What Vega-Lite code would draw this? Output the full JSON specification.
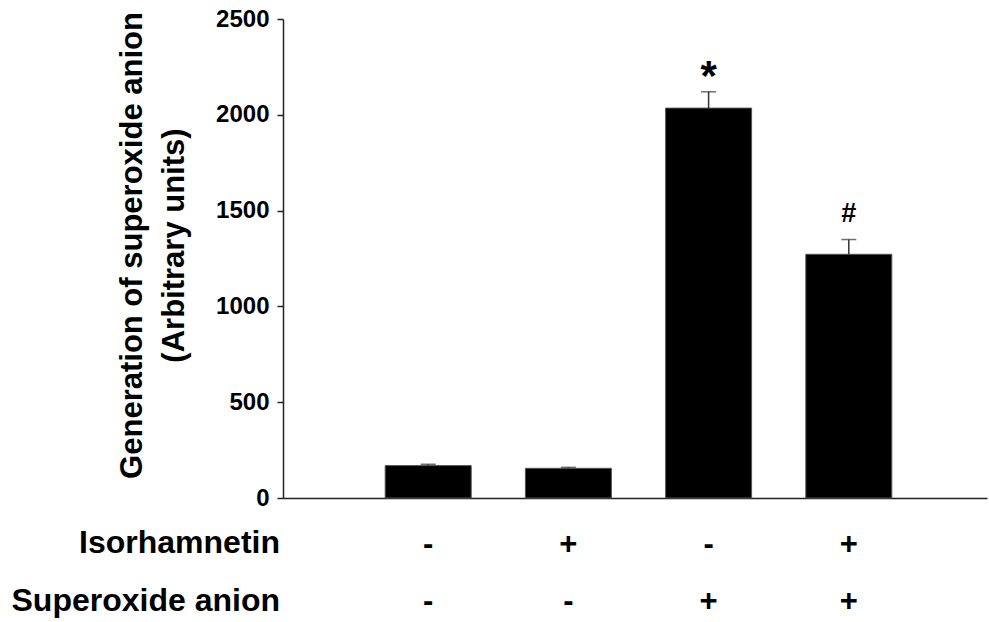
{
  "$schema": "https://vega.github.io/schema/vega-lite/v6.json",
  "autosize": {"type": "none"},
  "width": 704,
  "height": 479,
  "padding": {"left": 283, "top": 19, "right": 2, "bottom": 124},
  "background": "white",
  "config": {
    "view": {"stroke": null},
    "font": "Liberation Sans",
    "text": {"font": "Liberation Sans", "fontWeight": "bold", "color": "black"}
  },
  "data": {
    "values": [
      {"g": 1, "iso": "-", "sup": "-", "mean": 169, "upper": 176, "sig": ""},
      {"g": 2, "iso": "+", "sup": "-", "mean": 155, "upper": 160, "sig": ""},
      {"g": 3, "iso": "-", "sup": "+", "mean": 2035, "upper": 2120, "sig": "*"},
      {"g": 4, "iso": "+", "sup": "+", "mean": 1272, "upper": 1349, "sig": "#"}
    ]
  },
  "layer": [
    {
      "mark": {"type": "bar", "width": 86, "color": "black", "stroke": "#555555", "strokeWidth": 1},
      "encoding": {
        "x": {
          "field": "g", "type": "quantitative",
          "scale": {"domain": [0, 4.95], "nice": false, "zero": false},
          "axis": {"labels": false, "ticks": false, "grid": false, "title": null, "domainColor": "#222222", "domainWidth": 1.5}
        },
        "y": {
          "field": "mean", "type": "quantitative",
          "scale": {"domain": [0, 2500], "nice": false},
          "axis": {
            "values": [0, 500, 1000, 1500, 2000, 2500],
            "format": "d",
            "grid": false,
            "tickSize": 6, "tickColor": "#222222", "tickWidth": 1.5,
            "domainColor": "#222222", "domainWidth": 1.5,
            "labelFont": "Liberation Sans", "labelFontWeight": "bold", "labelFontSize": 24, "labelColor": "black",
            "labelPadding": 8,
            "title": ["Generation of superoxide anion", "(Arbitrary units)"],
            "titleFont": "Liberation Sans", "titleFontWeight": "bold", "titleFontSize": 31, "titleColor": "black",
            "titleLineHeight": 42,
            "titleAngle": -90,
            "titleX": -151,
            "titleY": 226,
            "titleAlign": "center",
            "titleBaseline": "middle"
          }
        }
      }
    },
    {
      "mark": {"type": "rule", "color": "#333333", "strokeWidth": 1.5},
      "encoding": {
        "x": {"field": "g", "type": "quantitative"},
        "y": {"field": "mean", "type": "quantitative"},
        "y2": {"field": "upper"}
      }
    },
    {
      "mark": {"type": "tick", "orient": "horizontal", "size": 15, "thickness": 1.5, "color": "#333333"},
      "encoding": {
        "x": {"field": "g", "type": "quantitative"},
        "y": {"field": "upper", "type": "quantitative"}
      }
    },
    {
      "transform": [{"filter": "datum.sig == '*'"}],
      "mark": {"type": "text", "fontSize": 42, "dy": -2, "baseline": "alphabetic", "align": "center"},
      "encoding": {
        "x": {"field": "g", "type": "quantitative"},
        "y": {"field": "upper", "type": "quantitative"},
        "text": {"field": "sig"}
      }
    },
    {
      "transform": [{"filter": "datum.sig == '#'"}],
      "mark": {"type": "text", "fontSize": 27, "dy": -18, "baseline": "alphabetic", "align": "center"},
      "encoding": {
        "x": {"field": "g", "type": "quantitative"},
        "y": {"field": "upper", "type": "quantitative"},
        "text": {"field": "sig"}
      }
    },
    {
      "mark": {"type": "text", "fontSize": 31, "dy": 56, "baseline": "alphabetic", "align": "center"},
      "encoding": {
        "x": {"field": "g", "type": "quantitative"},
        "y": {"datum": 0, "type": "quantitative"},
        "text": {"field": "iso"}
      }
    },
    {
      "mark": {"type": "text", "fontSize": 31, "dy": 113, "baseline": "alphabetic", "align": "center"},
      "encoding": {
        "x": {"field": "g", "type": "quantitative"},
        "y": {"datum": 0, "type": "quantitative"},
        "text": {"field": "sup"}
      }
    },
    {
      "data": {"values": [{"label": "Isorhamnetin"}]},
      "mark": {"type": "text", "fontSize": 32, "dy": 55, "dx": -8, "baseline": "alphabetic", "align": "right"},
      "encoding": {
        "x": {"datum": 0, "type": "quantitative"},
        "y": {"datum": 0, "type": "quantitative"},
        "text": {"field": "label"}
      }
    },
    {
      "data": {"values": [{"label": "Superoxide anion"}]},
      "mark": {"type": "text", "fontSize": 32, "dy": 113, "dx": -8, "baseline": "alphabetic", "align": "right"},
      "encoding": {
        "x": {"datum": 0, "type": "quantitative"},
        "y": {"datum": 0, "type": "quantitative"},
        "text": {"field": "label"}
      }
    }
  ]
}
